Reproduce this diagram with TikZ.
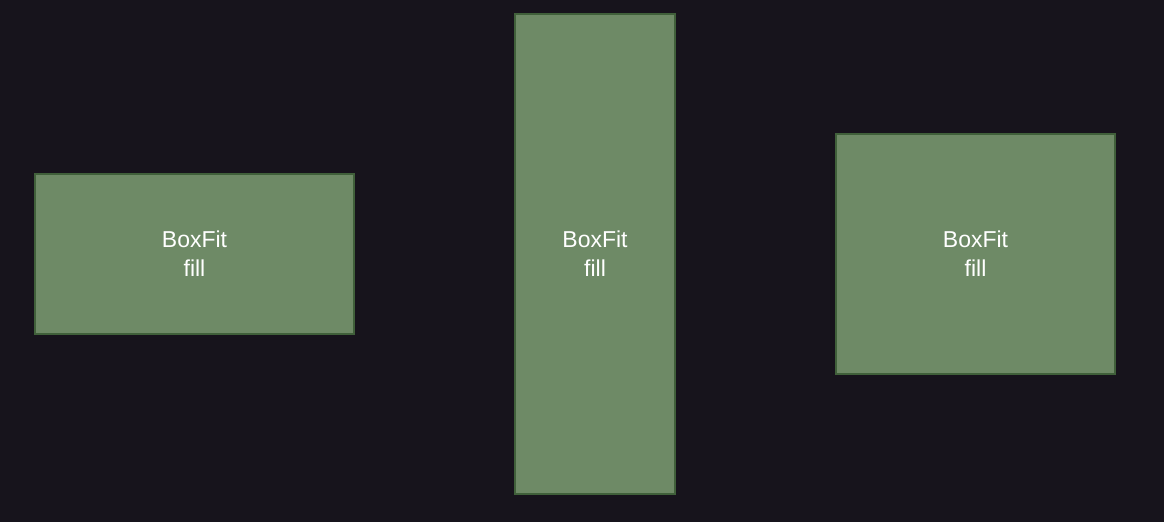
\documentclass[tikz,border=0pt]{standalone}
\usepackage{fontspec}
\setmainfont{Liberation Sans}
\definecolor{bgdark}{HTML}{17141C}
\definecolor{boxgreen}{HTML}{6E8A66}
\definecolor{boxedge}{HTML}{40603A}
\tikzset{
    fitbox/.style={draw=boxedge, fill=boxgreen, line width=2pt, inner sep=0pt,
        text=white, align=center, font=\fontsize{23}{29}\selectfont}
}
\begin{document}
\begin{tikzpicture}[x=1pt,y=-1pt]
    \fill[bgdark] (0,0) rectangle (1164,522);
    \node[fitbox, minimum width=319pt, minimum height=160pt] (fitwide) at (194.5,254) {BoxFit\\fill};
    \node[fitbox, minimum width=160pt, minimum height=480pt] (fittall) at (595,254) {BoxFit\\fill};
    \node[fitbox, minimum width=279pt, minimum height=240pt] (fitsquare) at (975.5,254) {BoxFit\\fill};
\end{tikzpicture}
\end{document}
